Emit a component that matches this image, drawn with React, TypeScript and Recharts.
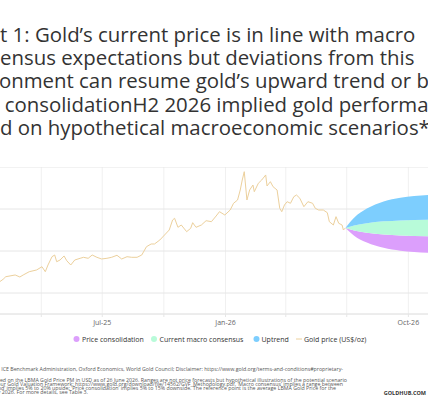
import React from 'react';
import { ComposedChart, Area, Line, XAxis, YAxis, CartesianGrid } from 'recharts';

// ---- Data ----
const goldDates = [
  '2025-01-02','2025-01-10','2025-01-17','2025-01-24','2025-01-29','2025-02-03','2025-02-07','2025-02-21','2025-02-28','2025-03-05',
  '2025-03-14','2025-03-25','2025-04-02','2025-04-07','2025-04-11','2025-04-17','2025-04-21','2025-04-24','2025-04-29','2025-05-05',
  '2025-05-09','2025-05-15','2025-05-21','2025-05-29','2025-06-03','2025-06-10','2025-06-16','2025-06-23','2025-06-30','2025-07-08',
  '2025-07-15','2025-07-23','2025-07-30','2025-08-07','2025-08-14','2025-08-22','2025-08-29','2025-09-05','2025-09-12','2025-09-17',
  '2025-09-25','2025-10-02','2025-10-09','2025-10-14','2025-10-17','2025-10-22','2025-10-27','2025-11-04','2025-11-10','2025-11-13',
  '2025-11-18','2025-11-26','2025-12-03','2025-12-11','2025-12-18','2025-12-23','2025-12-31','2026-01-08','2026-01-13','2026-01-19',
  '2026-01-23','2026-01-26','2026-01-29','2026-02-02','2026-02-06','2026-02-11','2026-02-13','2026-02-19','2026-02-24','2026-03-02',
  '2026-03-04','2026-03-09','2026-03-13','2026-03-19','2026-03-23','2026-03-26','2026-03-30','2026-04-03','2026-04-08','2026-04-13',
  '2026-04-17','2026-04-22','2026-04-28','2026-05-04','2026-05-11','2026-05-15','2026-05-20','2026-05-27','2026-06-02','2026-06-05',
  '2026-06-11','2026-06-15','2026-06-19','2026-06-24','2026-06-26','2026-06-29',
];
const goldValues = [
  2640, 2690, 2705, 2755, 2769, 2826, 2888, 2929, 2881, 2929,
  3007, 3048, 3126, 3007, 3167, 3364, 3405, 3245, 3286, 3381,
  3269, 3167, 3286, 3326, 3350, 3326, 3405, 3350, 3310, 3326,
  3350, 3398, 3310, 3364, 3350, 3350, 3405, 3602, 3667, 3667,
  3762, 3881, 4000, 4238, 4279, 4064, 4119, 3960, 4040, 4174,
  4064, 4119, 4221, 4198, 4333, 4436, 4357, 4476, 4636, 4714,
  4952, 5190, 5388, 4714, 4952, 5071, 4912, 5112, 5190, 5310,
  5048, 5150, 5031, 4952, 4517, 4436, 4595, 4674, 4636, 4793,
  4833, 4755, 4555, 4674, 4636, 4517, 4476, 4476, 4412, 4198,
  4119, 4317, 4160, 4119, 4000, 4048,
];

const fanDates = ['2026-06-29', '2026-07-12', '2026-07-31', '2026-08-25', '2026-09-19', '2026-10-31', '2026-12-31'];
const uptrendHigh = [4048, 4291, 4509, 4680, 4769, 4833, 4858];
const consensusHigh = [4048, 4109, 4163, 4206, 4228, 4244, 4250];
const consensusLow = [4048, 3987, 3933, 3890, 3868, 3852, 3846];
const consolidationLow = [4048, 3866, 3702, 3575, 3508, 3459, 3441];

const tickDates = ['2025-01-01', '2025-04-01', '2025-07-01', '2025-10-01', '2026-01-01', '2026-04-01', '2026-07-01', '2026-10-01', '2027-01-01'];
const tickLabelDates = ['2025-07-01', '2026-01-01', '2026-10-01'];
const tickLabels = ['Jul-25', 'Jan-26', 'Oct-26'];
const yTicks = [2000, 2500, 3000, 3500, 4000, 4500, 5000, 5500];

const titleLines = [
  'Chart 1: Gold\u2019s current price is in line with macro',
  'consensus expectations but deviations from this',
  'environment can resume gold\u2019s upward trend or bring',
  'about consolidationH2 2026 implied gold performance',
  'based on hypothetical macroeconomic scenarios*',
];
const titleLineX = [-45, -44.3, -48.7, -56.5, -45];

const noteLines = [
  'Source: Bloomberg, ICE Benchmark Administration, Oxford Economics, World Gold Council; Disclaimer: https://www.gold.org/terms-and-conditions#proprietary-',
  '*Based on the LBMA Gold Price PM in USD as of 26 June 2026. Ranges are not price forecasts but hypothetical illustrations of the potential scenario',
  'outcomes using our Gold Valuation Framework: https://www.gold.org/download/file/14562/GVF_Methodology.pdf. \u2018Macro consensus\u2019 implies a range between',
  '\u20135% and +5%; \u2018Uptrend\u2019 implies 5% to 20% upside; \u2018Price consolidation\u2019 implies 5% to 15% downside. The reference point is the average LBMA Gold Price for the',
  'month of May 2026. For more details, see Table 3.',
];
const noteEndX = [343, 347, 343, 336, 88];
const noteY = [370.5, 382, 386, 390, 394];

const legendNames = ['Price consolidation', 'Current macro consensus', 'Uptrend', 'Gold price (US$/oz)'];

// ---- Styling ----
const FONT = '"Open Sans", sans-serif';
const C_UP = '#7dcefe';
const C_CONS = '#b8fbd9';
const C_CONSOL = '#dc9ffc';
const C_GOLD = '#ecd09c';

const T = (s: string) => Date.parse(s);

type Row = { t: number; gold?: number; up?: [number, number]; cons?: [number, number]; consol?: [number, number] };

const buildData = (): Row[] => {
  const map = new Map<number, Row>();
  goldDates.forEach((d, i) => {
    map.set(T(d), { t: T(d), gold: goldValues[i] });
  });
  fanDates.forEach((d, i) => {
    const t = T(d);
    const row = map.get(t) || { t };
    row.up = [consensusHigh[i], uptrendHigh[i]];
    row.cons = [consensusLow[i], consensusHigh[i]];
    row.consol = [consolidationLow[i], consensusLow[i]];
    map.set(t, row);
  });
  return Array.from(map.values()).sort((a, b) => a.t - b.t);
};

const data = buildData();
const ticks = tickDates.map(T);
const labelMap = new Map<number, string>(tickLabelDates.map((d, i) => [T(d), tickLabels[i]]));

const XTick = (props: any) => {
  const { x, y, payload } = props;
  const label = labelMap.get(payload.value);
  if (!label) return <g />;
  return (
    <text x={x} y={y} dy={6} textAnchor="middle" fontSize={7} fontFamily={FONT} fill="#666666">
      {label}
    </text>
  );
};

export default function App() {
  const legendY = 339;
  return (
    <div
      style={{
        position: 'fixed',
        left: 0,
        top: 0,
        width: 428,
        height: 400,
        overflow: 'hidden',
        background: '#ffffff',
        fontFamily: FONT,
      }}
    >
      <div style={{ position: 'absolute', left: -19.3, top: 167 }}>
        <ComposedChart width={489} height={177} data={data} margin={{ top: 0, right: 0, bottom: 0, left: 0 }}>
          <CartesianGrid horizontal={false} vertical={true} stroke="#f0f0f0" />
          <CartesianGrid horizontal={true} vertical={false} stroke="#e6e6e6" />
          <XAxis
            dataKey="t"
            type="number"
            domain={[T('2025-01-01'), T('2027-01-01')]}
            ticks={ticks}
            interval={0}
            allowDataOverflow
            height={30}
            axisLine={{ stroke: '#e6e6e6' }}
            tickLine={{ stroke: '#e6e6e6' }}
            tickSize={3}
            tickMargin={2}
            tick={<XTick />}
          />
          <YAxis hide domain={[2000, 5500]} ticks={yTicks} allowDataOverflow />
          <Area dataKey="consol" type="monotone" stroke="none" fill={C_CONSOL} fillOpacity={1} dot={false} activeDot={false} isAnimationActive={false} />
          <Area dataKey="cons" type="monotone" stroke="none" fill={C_CONS} fillOpacity={1} dot={false} activeDot={false} isAnimationActive={false} />
          <Area dataKey="up" type="monotone" stroke="none" fill={C_UP} fillOpacity={1} dot={false} activeDot={false} isAnimationActive={false} />
          <Line dataKey="gold" type="linear" stroke={C_GOLD} strokeWidth={1} dot={false} activeDot={false} isAnimationActive={false} />
        </ComposedChart>
      </div>
      <svg width={428} height={400} style={{ position: 'absolute', left: 0, top: 0, pointerEvents: 'none' }}>
        {titleLines.map((s, i) => (
          <text key={i} x={titleLineX[i]} y={41.5 + i * 23.35} fontSize={20.4} fontFamily={FONT} fill="#333333">
            {s}
          </text>
        ))}
        {/* legend */}
        <circle cx={76.5} cy={legendY} r={3} fill={C_CONSOL} />
        <text x={82} y={legendY + 2.5} fontSize={7} fontFamily={FONT} fill="#333333">{legendNames[0]}</text>
        <circle cx={154} cy={legendY} r={3} fill={C_CONS} />
        <text x={159.5} y={legendY + 2.5} fontSize={7} fontFamily={FONT} fill="#333333">{legendNames[1]}</text>
        <circle cx={256.5} cy={legendY} r={3} fill={C_UP} />
        <text x={261.5} y={legendY + 2.5} fontSize={7} fontFamily={FONT} fill="#333333">{legendNames[2]}</text>
        <line x1={296} x2={302} y1={legendY} y2={legendY} stroke={C_GOLD} strokeWidth={1} />
        <text x={304} y={legendY + 2.5} fontSize={7} fontFamily={FONT} fill="#333333">{legendNames[3]}</text>
        {/* notes */}
        {noteLines.map((s, i) => (
          <text key={i} x={noteEndX[i]} y={noteY[i]} textAnchor="end" fontSize={5.25} fontFamily={FONT} fill="#555555">
            {s}
          </text>
        ))}
        <text x={426} y={395} textAnchor="end" fontSize={5.5} fontWeight={700} fontFamily={FONT} fill="#333333">GOLDHUB.COM</text>
      </svg>
    </div>
  );
}
